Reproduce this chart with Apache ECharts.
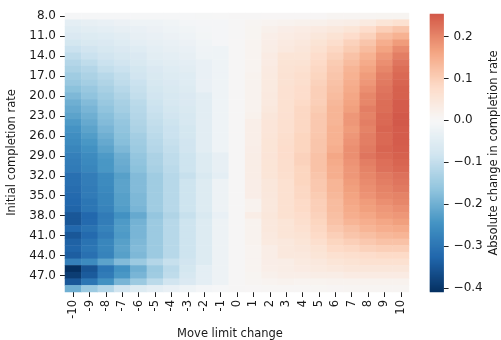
<!DOCTYPE html>
<html>
<head>
<meta charset="utf-8">
<script src="https://cdn.jsdelivr.net/npm/echarts@6/dist/echarts.min.js"></script>
<style>
  html, body { margin: 0; padding: 0; background: #ffffff; }
  #chart { width: 501px; height: 340px; }
</style>
</head>
<body>
<div id="chart"></div>
<script>
// Move limit change (x categories)
const moveLimits = ['-10','-9','-8','-7','-6','-5','-4','-3','-2','-1','0','1','2','3','4','5','6','7','8','9','10'];

// Initial completion rate (y categories, top to bottom)
const initialRates = ['8.0','9.0','10.0','11.0','12.0','13.0','14.0','15.0','16.0','17.0','18.0','19.0','20.0','21.0',
  '22.0','23.0','24.0','25.0','26.0','27.0','28.0','29.0','30.0','31.0','32.0','33.0','34.0','35.0',
  '36.0','37.0','38.0','39.0','40.0','41.0','42.0','43.0','44.0','45.0','46.0','47.0','48.0','49.0'];

// Colour bar ticks and range
const colorbarTicks = [-0.4, -0.3, -0.2, -0.1, 0.0, 0.1, 0.2];
const colorMin = -0.41;
const colorMax = 0.254;

// Absolute change in completion rate, one array per move limit change,
// ordered by initial completion rate (8.0 ... 49.0)
const changeM10 = [-0.006,-0.04,-0.05,-0.06,-0.075,-0.09,-0.105,-0.12,-0.13,-0.145,-0.155,-0.17,-0.185,-0.2,-0.21,-0.22,-0.235,-0.245,-0.255,-0.26,-0.27,-0.28,-0.285,-0.29,-0.31,-0.31,-0.315,-0.32,-0.325,-0.33,-0.35,-0.35,-0.325,-0.35,-0.335,-0.33,-0.34,-0.28,-0.41,-0.39,-0.35,-0.2];
const changeM9 = [-0.006,-0.035,-0.045,-0.055,-0.065,-0.08,-0.09,-0.105,-0.12,-0.13,-0.14,-0.155,-0.165,-0.18,-0.19,-0.2,-0.21,-0.22,-0.23,-0.24,-0.25,-0.26,-0.265,-0.27,-0.285,-0.285,-0.29,-0.29,-0.3,-0.3,-0.325,-0.32,-0.305,-0.32,-0.305,-0.3,-0.31,-0.26,-0.355,-0.345,-0.3,-0.15];
const changeM8 = [-0.006,-0.03,-0.04,-0.05,-0.06,-0.07,-0.08,-0.09,-0.1,-0.115,-0.125,-0.135,-0.145,-0.155,-0.165,-0.175,-0.18,-0.19,-0.2,-0.21,-0.22,-0.235,-0.24,-0.24,-0.26,-0.26,-0.265,-0.27,-0.27,-0.275,-0.29,-0.285,-0.275,-0.285,-0.27,-0.27,-0.275,-0.22,-0.3,-0.29,-0.25,-0.12];
const changeM7 = [-0.005,-0.025,-0.035,-0.045,-0.05,-0.06,-0.07,-0.08,-0.09,-0.1,-0.105,-0.115,-0.125,-0.135,-0.14,-0.15,-0.16,-0.165,-0.17,-0.175,-0.185,-0.2,-0.205,-0.21,-0.225,-0.22,-0.22,-0.225,-0.225,-0.23,-0.25,-0.235,-0.23,-0.235,-0.225,-0.22,-0.225,-0.18,-0.25,-0.24,-0.19,-0.08];
const changeM6 = [-0.005,-0.02,-0.03,-0.035,-0.04,-0.05,-0.06,-0.065,-0.075,-0.08,-0.09,-0.095,-0.1,-0.11,-0.115,-0.12,-0.125,-0.13,-0.14,-0.145,-0.15,-0.16,-0.165,-0.17,-0.18,-0.18,-0.18,-0.185,-0.185,-0.19,-0.21,-0.195,-0.19,-0.19,-0.185,-0.18,-0.185,-0.15,-0.2,-0.19,-0.15,-0.055];
const changeM5 = [-0.005,-0.02,-0.025,-0.03,-0.035,-0.04,-0.045,-0.05,-0.06,-0.065,-0.07,-0.075,-0.08,-0.085,-0.09,-0.095,-0.1,-0.105,-0.11,-0.115,-0.12,-0.13,-0.13,-0.135,-0.145,-0.145,-0.145,-0.145,-0.145,-0.145,-0.16,-0.15,-0.15,-0.15,-0.15,-0.15,-0.15,-0.12,-0.15,-0.145,-0.11,-0.04];
const changeM4 = [-0.004,-0.015,-0.02,-0.025,-0.03,-0.035,-0.04,-0.045,-0.05,-0.055,-0.06,-0.065,-0.07,-0.07,-0.075,-0.08,-0.085,-0.09,-0.09,-0.095,-0.1,-0.105,-0.105,-0.11,-0.115,-0.115,-0.115,-0.115,-0.115,-0.115,-0.125,-0.115,-0.115,-0.115,-0.115,-0.115,-0.115,-0.095,-0.11,-0.105,-0.08,-0.03];
const changeM3 = [-0.004,-0.01,-0.015,-0.02,-0.025,-0.03,-0.035,-0.04,-0.045,-0.05,-0.05,-0.055,-0.06,-0.06,-0.065,-0.07,-0.07,-0.075,-0.075,-0.08,-0.08,-0.085,-0.085,-0.085,-0.095,-0.085,-0.085,-0.085,-0.085,-0.085,-0.095,-0.085,-0.085,-0.085,-0.085,-0.085,-0.085,-0.08,-0.075,-0.07,-0.06,-0.02];
const changeM2 = [-0.003,-0.008,-0.01,-0.012,-0.015,-0.018,-0.02,-0.03,-0.03,-0.03,-0.03,-0.03,-0.045,-0.045,-0.045,-0.045,-0.045,-0.045,-0.045,-0.045,-0.045,-0.055,-0.055,-0.055,-0.065,-0.055,-0.055,-0.055,-0.055,-0.055,-0.065,-0.055,-0.055,-0.055,-0.055,-0.055,-0.055,-0.055,-0.04,-0.04,-0.04,-0.01];
const changeM1 = [-0.002,-0.008,-0.008,-0.008,-0.008,-0.02,-0.02,-0.02,-0.02,-0.02,-0.02,-0.02,-0.02,-0.02,-0.02,-0.02,-0.02,-0.02,-0.02,-0.02,-0.02,-0.035,-0.035,-0.035,-0.04,-0.022,-0.022,-0.022,-0.022,-0.022,-0.03,-0.022,-0.022,-0.022,-0.022,-0.022,-0.022,-0.022,-0.022,-0.022,-0.022,-0.005];
const change0 = [0,0,0,0,0,0,0,0,0,0,0,0,0,0,0,0,0,0,0,0,0,0,0,0,0,0,0,0,0,0,0,0,0,0,0,0,0,0,0,0,0,0];
const changeP1 = [0.002,0.008,0.01,0.01,0.012,0.012,0.012,0.012,0.012,0.015,0.015,0.015,0.015,0.015,0.015,0.018,0.025,0.025,0.025,0.025,0.028,0.03,0.03,0.03,0.03,0.028,0.028,0.028,0.015,0.015,0.03,0.015,0.015,0.015,0.015,0.012,0.012,0.012,0.012,0.01,0.008,0.003];
const changeP2 = [0.003,0.012,0.02,0.025,0.028,0.03,0.035,0.035,0.038,0.04,0.04,0.04,0.042,0.042,0.045,0.05,0.052,0.052,0.054,0.055,0.055,0.056,0.055,0.055,0.055,0.048,0.048,0.046,0.045,0.045,0.048,0.044,0.044,0.042,0.04,0.03,0.03,0.028,0.025,0.02,0.012,0.005];
const changeP3 = [0.003,0.015,0.028,0.032,0.038,0.042,0.055,0.058,0.06,0.062,0.062,0.064,0.064,0.065,0.065,0.066,0.068,0.068,0.07,0.072,0.075,0.075,0.072,0.072,0.07,0.065,0.065,0.065,0.065,0.065,0.065,0.055,0.055,0.055,0.045,0.045,0.045,0.03,0.03,0.025,0.015,0.005];
const changeP4 = [0.003,0.018,0.032,0.038,0.045,0.05,0.055,0.06,0.065,0.07,0.07,0.075,0.075,0.08,0.085,0.085,0.085,0.085,0.09,0.09,0.09,0.095,0.095,0.09,0.09,0.09,0.085,0.085,0.08,0.08,0.075,0.07,0.065,0.06,0.055,0.05,0.045,0.04,0.035,0.025,0.012,0.005];
const changeP5 = [0.003,0.02,0.038,0.048,0.058,0.065,0.075,0.08,0.085,0.09,0.095,0.1,0.1,0.1,0.105,0.11,0.11,0.11,0.112,0.115,0.115,0.12,0.12,0.12,0.115,0.11,0.11,0.105,0.1,0.1,0.095,0.09,0.085,0.08,0.07,0.06,0.055,0.045,0.04,0.03,0.013,0.006];
const changeP6 = [0.008,0.025,0.045,0.06,0.072,0.085,0.095,0.105,0.11,0.115,0.12,0.125,0.13,0.135,0.14,0.14,0.14,0.145,0.145,0.145,0.15,0.16,0.155,0.15,0.15,0.14,0.14,0.135,0.13,0.13,0.125,0.12,0.11,0.1,0.09,0.08,0.065,0.055,0.045,0.03,0.015,0.007];
const changeP7 = [0.008,0.03,0.055,0.075,0.095,0.105,0.12,0.13,0.14,0.145,0.15,0.155,0.16,0.165,0.17,0.18,0.18,0.175,0.18,0.185,0.19,0.19,0.185,0.18,0.18,0.175,0.17,0.165,0.16,0.155,0.15,0.14,0.125,0.115,0.1,0.085,0.07,0.06,0.05,0.035,0.015,0.008];
const changeP8 = [0.008,0.04,0.075,0.095,0.115,0.13,0.145,0.155,0.165,0.175,0.18,0.19,0.2,0.2,0.21,0.205,0.21,0.205,0.21,0.21,0.215,0.22,0.21,0.205,0.2,0.195,0.19,0.185,0.175,0.17,0.16,0.15,0.14,0.125,0.11,0.095,0.075,0.065,0.05,0.035,0.015,0.008];
const changeP9 = [0.01,0.055,0.1,0.13,0.15,0.165,0.18,0.19,0.2,0.21,0.215,0.22,0.225,0.23,0.23,0.235,0.235,0.24,0.235,0.235,0.24,0.235,0.228,0.225,0.215,0.21,0.205,0.2,0.19,0.18,0.175,0.16,0.15,0.135,0.12,0.1,0.08,0.065,0.05,0.035,0.015,0.008];
const changeP10 = [0.01,0.065,0.115,0.145,0.175,0.195,0.21,0.22,0.23,0.235,0.24,0.245,0.245,0.25,0.25,0.254,0.254,0.25,0.25,0.25,0.248,0.245,0.24,0.235,0.225,0.22,0.215,0.205,0.2,0.19,0.18,0.17,0.155,0.14,0.12,0.1,0.08,0.065,0.05,0.035,0.015,0.008];

const columns = [changeM10, changeM9, changeM8, changeM7, changeM6, changeM5, changeM4, changeM3, changeM2, changeM1,
  change0, changeP1, changeP2, changeP3, changeP4, changeP5, changeP6, changeP7, changeP8, changeP9, changeP10];

// Heatmap cells: [x index, y index, value]
const cells = [];
columns.forEach(function (col, xi) {
  col.forEach(function (v, yi) { cells.push([xi, yi, v]); });
});

// Colour bar: a one-column strip of thin cells spanning the colour range
const barBins = 278;
const barCats = [];
const barCells = [];
for (let i = 0; i < barBins; i++) {
  barCats.push(String(i));
  barCells.push([0, i, colorMin + (colorMax - colorMin) * (i + 0.5) / barBins]);
}

// Diverging red-blue palette (reversed), centred on zero and clipped to the data range
const rdbuR = ['#053061','#2166ac','#4393c3','#92c5de','#d1e5f0','#f7f7f7','#fddbc7','#f4a582','#d6604d','#b2182b','#67001f'];
function hexToRgb(h) { return [parseInt(h.substr(1,2),16), parseInt(h.substr(3,2),16), parseInt(h.substr(5,2),16)]; }
function paletteAt(t) {
  const s = Math.max(0, Math.min(1, t)) * (rdbuR.length - 1);
  const i = Math.min(Math.floor(s), rdbuR.length - 2);
  const f = s - i;
  const a = hexToRgb(rdbuR[i]), b = hexToRgb(rdbuR[i + 1]);
  const c = a.map(function (ch, k) { return Math.round(ch + (b[k] - ch) * f); });
  return 'rgb(' + c.join(',') + ')';
}
const span = Math.max(-colorMin, colorMax);
const rampColors = [];
const steps = 64;
for (let k = 0; k <= steps; k++) {
  const v = colorMin + (colorMax - colorMin) * k / steps;
  rampColors.push(paletteAt(0.5 + v / (2 * span)));
}

const font = 'DejaVu Sans';
const textColor = '#1a1a1a';
const tickStyle = { color: '#222', width: 1 };

const chart = echarts.init(document.getElementById('chart'), null, { renderer: 'canvas' });
chart.setOption({
  animation: false,
  backgroundColor: '#ffffff',
  textStyle: { fontFamily: font },
  grid: [
    { left: 65, top: 13, width: 344, height: 279, containLabel: false, outerBoundsMode: 'none' },
    { left: 430, top: 14, width: 13.6, height: 278, containLabel: false, outerBoundsMode: 'none' }
  ],
  xAxis: [
    {
      gridIndex: 0,
      type: 'category',
      data: moveLimits,
      position: 'bottom',
      axisLine: { show: false },
      splitLine: { show: false },
      axisTick: { show: true, alignWithLabel: true, length: 5, lineStyle: tickStyle },
      axisLabel: { rotate: 90, fontSize: 11.5, color: textColor, fontFamily: font, margin: 8 },
      name: 'Move limit change',
      nameLocation: 'middle',
      nameGap: 36,
      nameTextStyle: { fontSize: 11.5, color: textColor, fontFamily: font, padding: [0, 14, 0, 0] }
    },
    {
      gridIndex: 1,
      type: 'category',
      data: ['bar'],
      show: false
    }
  ],
  yAxis: [
    {
      gridIndex: 0,
      type: 'category',
      data: initialRates,
      inverse: true,
      axisLine: { show: false },
      splitLine: { show: false },
      axisTick: { show: true, alignWithLabel: true, interval: 2, length: 5, lineStyle: tickStyle },
      axisLabel: { interval: 2, fontSize: 12, color: textColor, fontFamily: font, margin: 9 },
      name: 'Initial completion rate',
      nameLocation: 'middle',
      nameRotate: 90,
      nameGap: 45,
      nameTextStyle: { fontSize: 11.5, color: textColor, fontFamily: font }
    },
    {
      gridIndex: 1,
      type: 'category',
      data: barCats,
      show: false
    },
    {
      gridIndex: 1,
      type: 'value',
      position: 'right',
      min: colorMin,
      max: colorMax,
      axisLine: { show: false },
      splitLine: { show: false },
      axisTick: { show: true, length: 5, customValues: colorbarTicks, lineStyle: tickStyle },
      axisLabel: {
        customValues: colorbarTicks,
        fontSize: 12, color: textColor, fontFamily: font, margin: 10,
        formatter: function (v) { return (v < -1e-9 ? '\u2212' : '') + Math.abs(v).toFixed(1); }
      },
      name: 'Absolute change in completion rate',
      nameLocation: 'middle',
      nameRotate: 90,
      nameGap: 44,
      nameTextStyle: { fontSize: 11.5, color: textColor, fontFamily: font }
    }
  ],
  visualMap: {
    type: 'continuous',
    show: false,
    seriesIndex: [0, 1],
    dimension: 2,
    min: colorMin,
    max: colorMax,
    inRange: { color: rampColors }
  },
  series: [
    {
      type: 'heatmap',
      xAxisIndex: 0,
      yAxisIndex: 0,
      data: cells,
      itemStyle: { borderWidth: 0 },
      emphasis: { disabled: true },
      progressive: 0
    },
    {
      type: 'heatmap',
      xAxisIndex: 1,
      yAxisIndex: 1,
      data: barCells,
      itemStyle: { borderWidth: 0 },
      emphasis: { disabled: true },
      progressive: 0,
      silent: true
    }
  ]
});
</script>
</body>
</html>
